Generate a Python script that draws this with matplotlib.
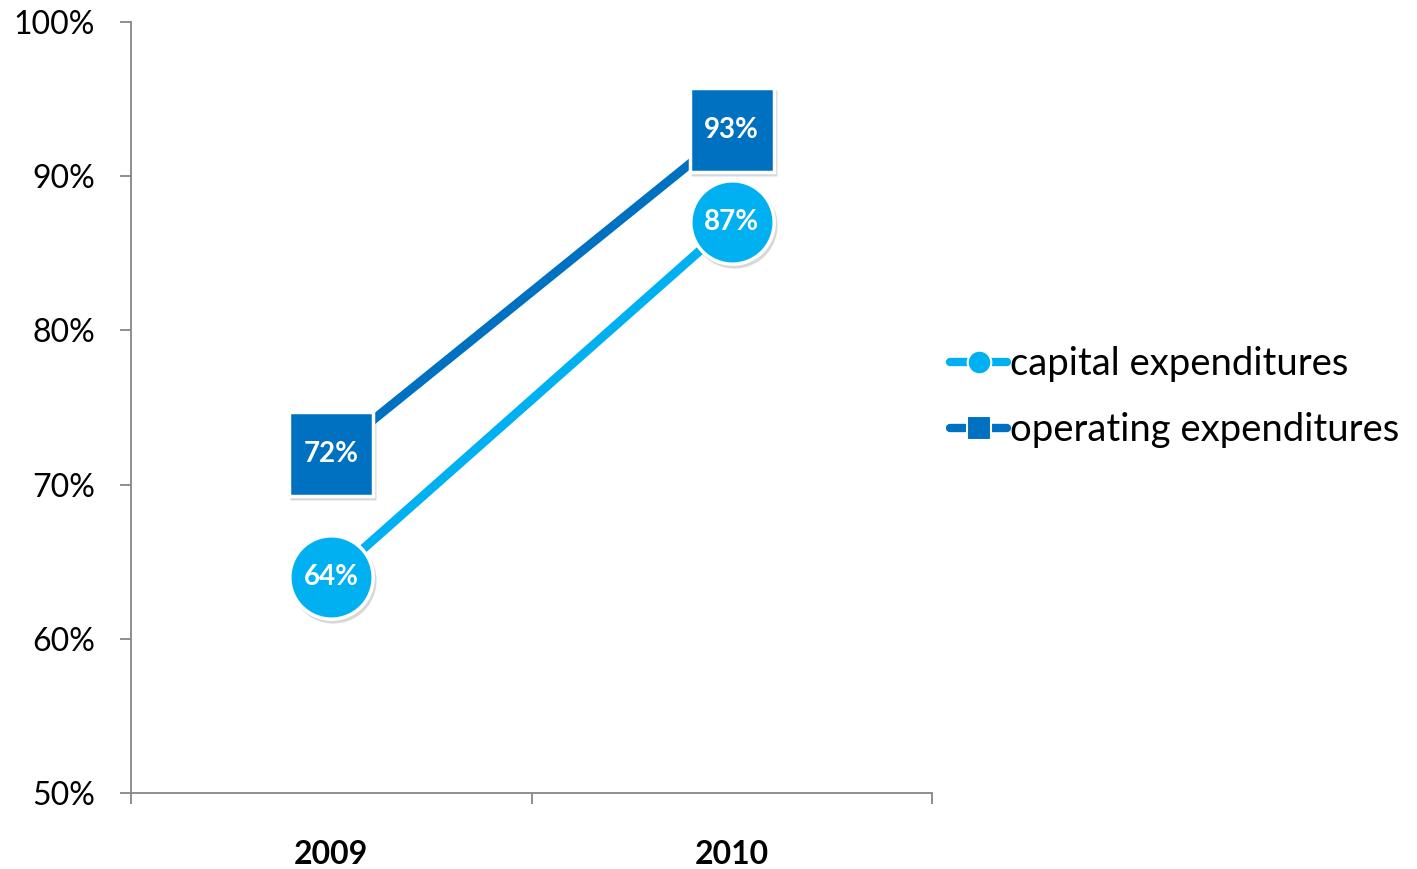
import matplotlib.pyplot as plt
from matplotlib.lines import Line2D
from matplotlib.ticker import FixedLocator, NullFormatter, FuncFormatter
import matplotlib.transforms as mtransforms

# data
years = ["2009", "2010"]
capex = [64, 87]
opex = [72, 93]
y_ticks = [50, 60, 70, 80, 90, 100]

cap_color = "#00B0F0"
op_color = "#0070C0"
axis_gray = "#868686"

plt.rcParams["font.family"] = ["Lato", "DejaVu Sans"]

fig = plt.figure(figsize=(14.17, 8.69), dpi=100)
ax = fig.add_axes([131 / 1417, 1 - 793 / 869, (932 - 131) / 1417, (793 - 22) / 869])

xs = [i + 0.5 for i in range(len(years))]

# soft shadows behind markers
shadow = mtransforms.offset_copy(ax.transData, fig=fig, x=2, y=-3, units="dots")
ax.plot(xs, opex, ls="none", marker="s", ms=62, mfc="#bfbfbf", mec="none",
        alpha=0.6, transform=shadow, zorder=2)
ax.plot(xs, capex, ls="none", marker="o", ms=62, mfc="#bfbfbf", mec="none",
        alpha=0.6, transform=shadow, zorder=2)

ax.plot(xs, opex, color=op_color, lw=6.5, solid_capstyle="butt", zorder=3)
ax.plot(xs, capex, color=cap_color, lw=6.5, solid_capstyle="butt", zorder=3)
ax.plot(xs, opex, ls="none", marker="s", ms=60, mfc=op_color, mec="white", mew=2.5, zorder=4)
ax.plot(xs, capex, ls="none", marker="o", ms=60, mfc=cap_color, mec="white", mew=2.5, zorder=4)

for x, v in zip(xs, opex):
    ax.text(x, v, f"{v}%", color="white", fontsize=20, fontweight="bold",
            ha="center", va="center", zorder=5)
for x, v in zip(xs, capex):
    ax.text(x, v, f"{v}%", color="white", fontsize=20, fontweight="bold",
            ha="center", va="center", zorder=5)

ax.set_xlim(0, len(years))
ax.set_ylim(50, 100)

# category boundaries as major ticks, year labels as minor ticks
ax.xaxis.set_major_locator(FixedLocator([0, 1, 2]))
ax.xaxis.set_major_formatter(NullFormatter())
ax.xaxis.set_minor_locator(FixedLocator(xs))
ax.set_xticklabels(years, minor=True, fontsize=23, fontweight="bold")
ax.tick_params(axis="x", which="major", length=8, color=axis_gray, width=1.3)
ax.tick_params(axis="x", which="minor", length=0, pad=34)

ax.set_yticks(y_ticks)
ax.yaxis.set_major_formatter(FuncFormatter(lambda v, p: f"{int(v)}%"))
ax.tick_params(axis="y", length=8, color=axis_gray, width=1.3, labelsize=23, pad=18)

for side in ["top", "right"]:
    ax.spines[side].set_visible(False)
for side in ["left", "bottom"]:
    ax.spines[side].set_color(axis_gray)
    ax.spines[side].set_linewidth(1.3)

handles = [
    Line2D([], [], color=cap_color, lw=6, solid_capstyle="round", marker="o",
           ms=17, mfc=cap_color, mec="white", mew=1.5),
    Line2D([], [], color=op_color, lw=6, solid_capstyle="round", marker="s",
           ms=17, mfc=op_color, mec="white", mew=1.5),
]
fig.legend(handles, ["capital expenditures", "operating expenditures"],
           loc="center left", bbox_to_anchor=(950 / 1417, 1 - 397 / 869),
           frameon=False, fontsize=27.5, handlelength=1.5, handletextpad=0.08,
           labelspacing=0.78, borderpad=0, borderaxespad=0)

fig.savefig("out.png", dpi=100)
